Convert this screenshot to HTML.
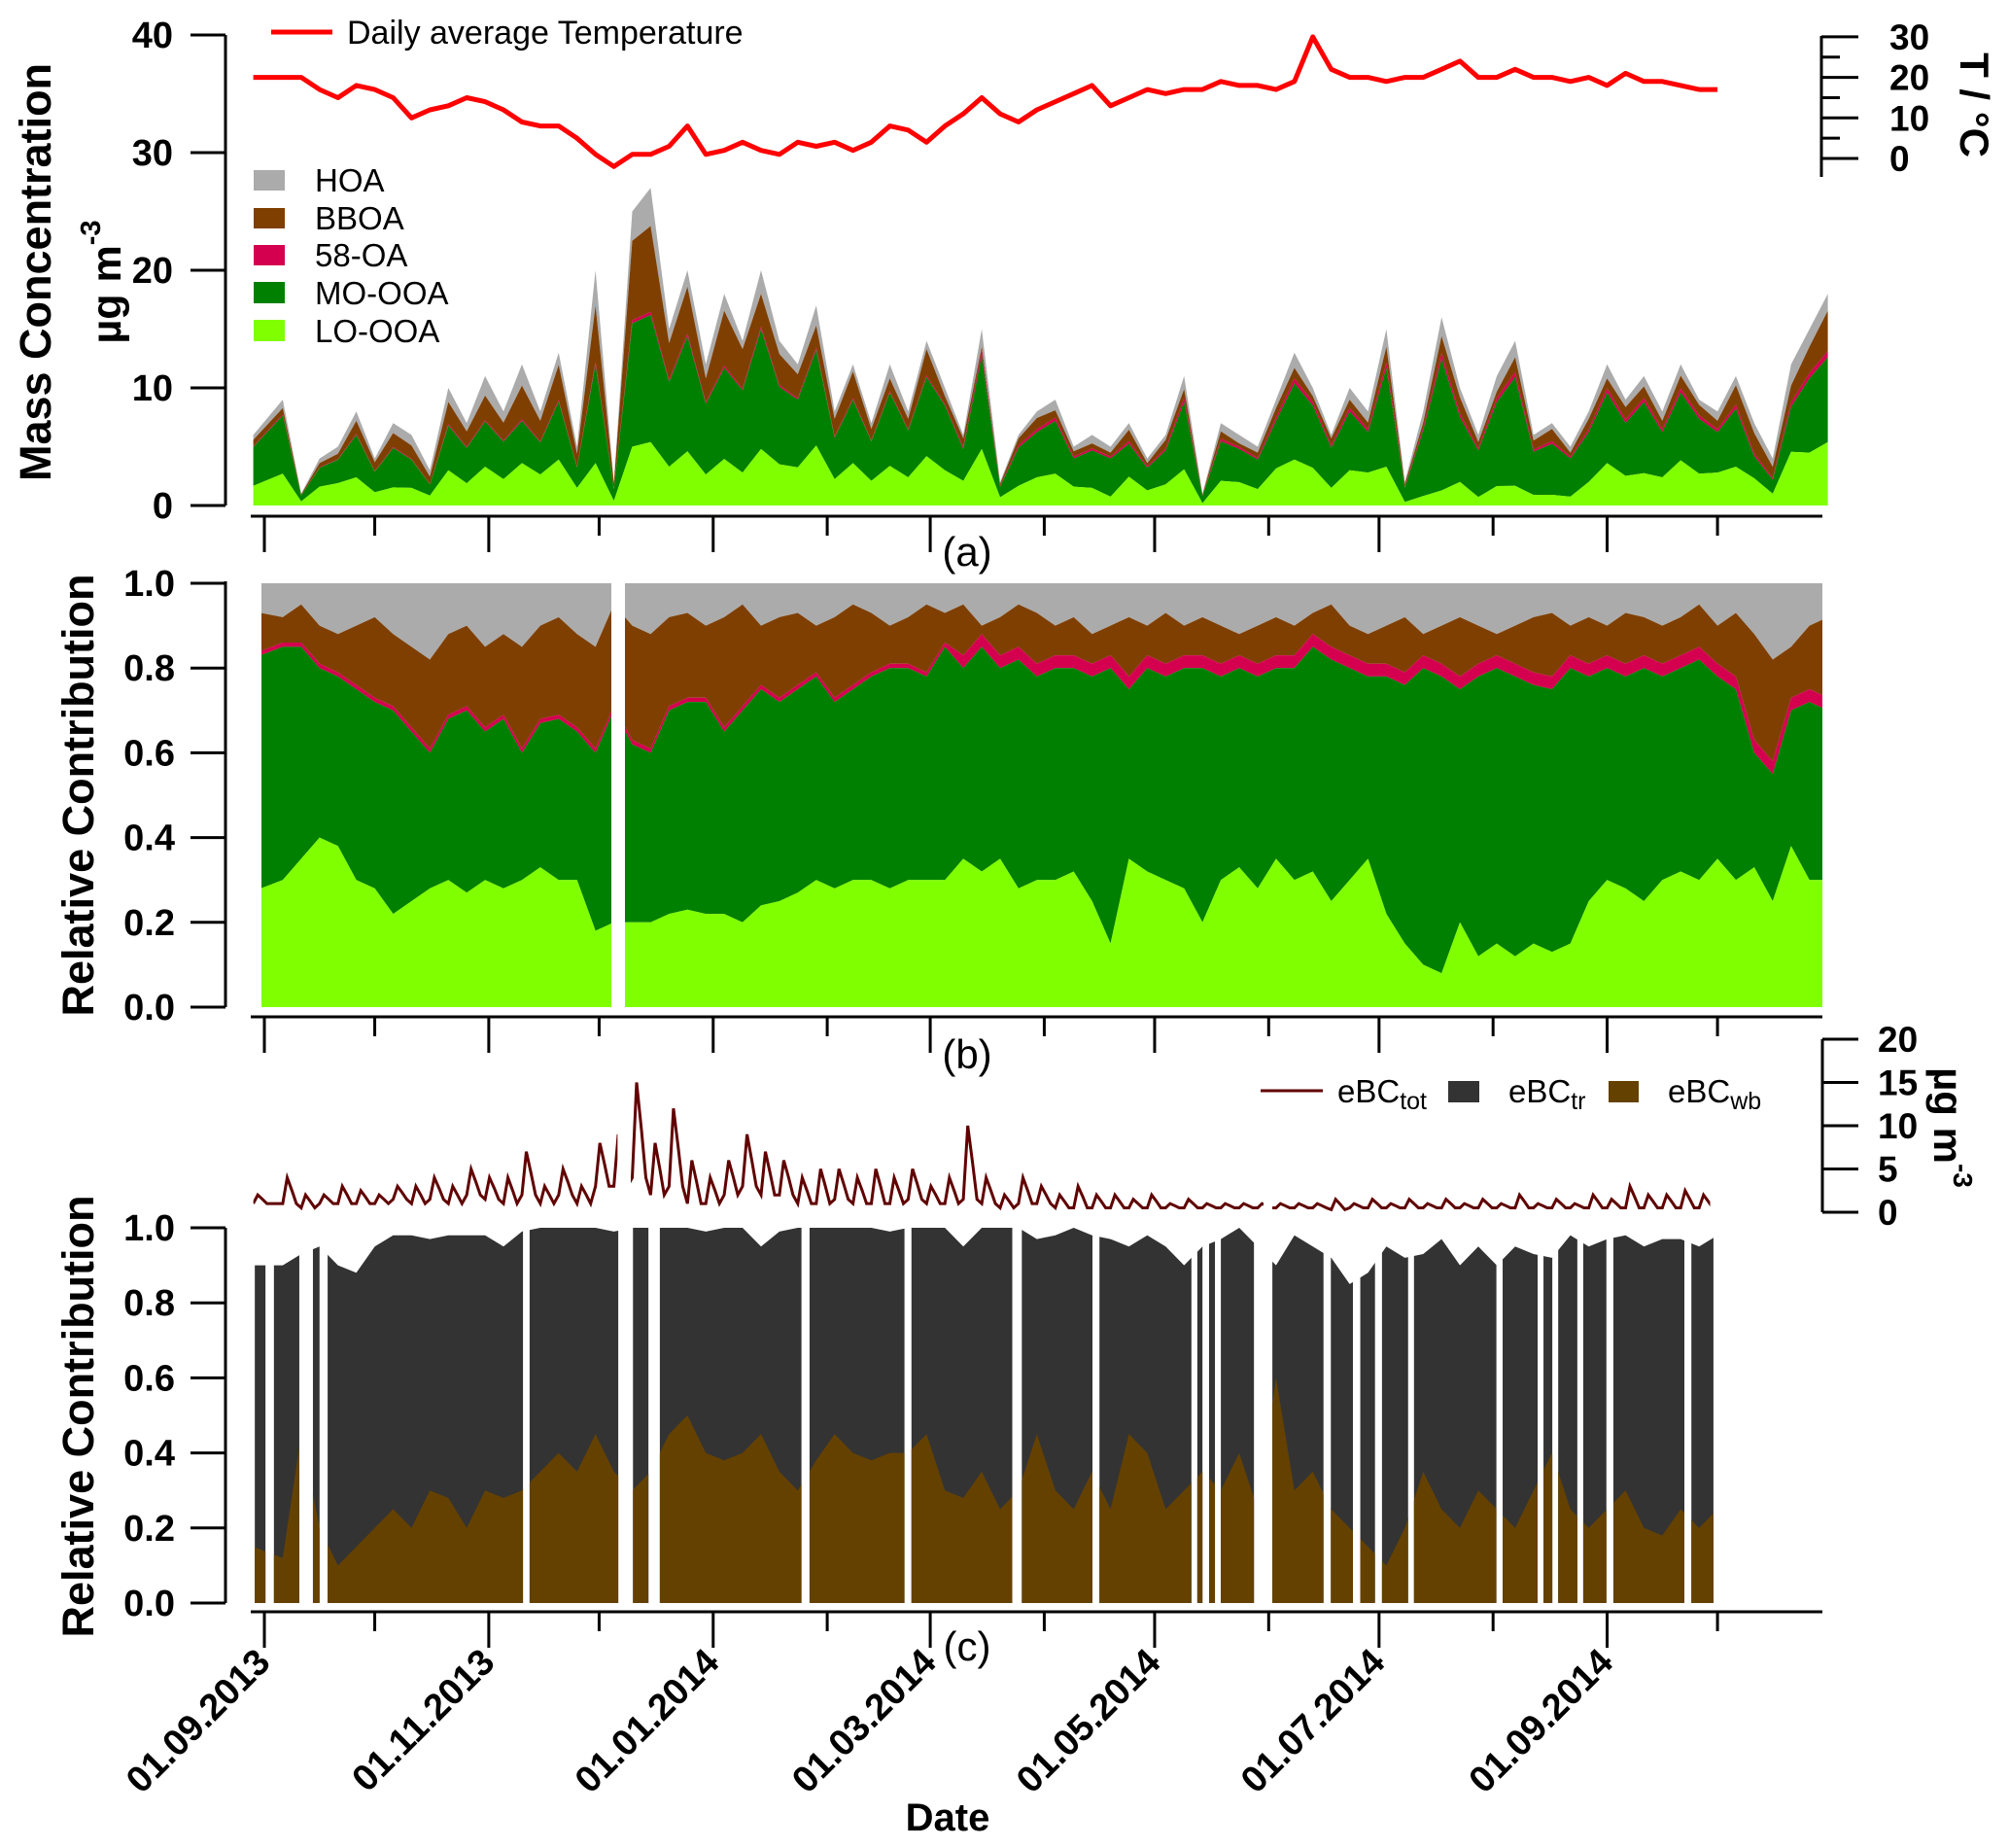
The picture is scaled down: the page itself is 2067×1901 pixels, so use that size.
<!DOCTYPE html>
<html><head><meta charset="utf-8"><style>
html,body{margin:0;padding:0;background:#fff;}
svg{display:block;font-family:"Liberation Sans",Arial,sans-serif;}
</style></head><body>
<svg id="chart" width="2067" height="1901" viewBox="0 0 2067 1901" xmlns="http://www.w3.org/2000/svg">
<defs>
<clipPath id="clipB"><rect x="269" y="590" width="360" height="460"/><rect x="643" y="590" width="1232" height="460"/></clipPath>
<clipPath id="clipC"></clipPath>
<clipPath id="clipE"></clipPath>
</defs>
<g id="gA"></g>
<g id="gB"></g>
<g id="gC"></g>
<g id="gAx"></g>
</svg>
<script>
// ---- data (sampled every 5 days from 01.09.2013) ----
const aTotal=[6,9,1,4,5,8,4,7,6,3,10,7,11,8,12,8,13,5,20,2,25,27,15,20,12,18,14,20,14,12,17,8,12,7,12,8,14,10,6,15,2,6,8,9,5,6,5,7,4,6,11,1,7,6,5,9,13,10,6,10,8,15,2,8,16,10,6,11,14,6,7,5,8,12,9,11,8,12,9,8,11,7,4,12,15,18];
const loFrac=[.28,.3,.35,.4,.38,.3,.28,.22,.25,.28,.3,.27,.3,.28,.3,.33,.3,.3,.18,.2,.2,.2,.22,.23,.22,.22,.2,.24,.25,.27,.3,.28,.3,.3,.28,.3,.3,.3,.35,.32,.35,.28,.3,.3,.32,.25,.15,.35,.32,.3,.28,.2,.3,.33,.28,.35,.3,.32,.25,.3,.35,.22,.15,.1,.08,.2,.12,.15,.12,.15,.13,.15,.25,.3,.28,.25,.3,.32,.3,.35,.3,.33,.25,.38,.3,.3];
const moTop=[.83,.85,.85,.8,.78,.75,.72,.7,.65,.6,.68,.7,.65,.68,.6,.67,.68,.65,.6,.7,.62,.6,.7,.72,.72,.65,.7,.75,.72,.75,.78,.72,.75,.78,.8,.8,.78,.85,.8,.85,.8,.82,.78,.8,.8,.78,.8,.75,.8,.78,.8,.8,.78,.8,.78,.8,.8,.85,.82,.8,.78,.78,.76,.8,.78,.75,.78,.8,.78,.76,.75,.8,.78,.8,.78,.8,.78,.8,.82,.78,.75,.6,.55,.7,.72,.7];
const oa58=[.01,.01,.01,.01,.01,.01,.01,.01,.01,.01,.01,.01,.01,.01,.01,.01,.01,.01,.01,.01,.01,.01,.01,.01,.01,.01,.01,.01,.01,.01,.01,.01,.01,.01,.01,.01,.01,.01,.03,.03,.03,.03,.03,.03,.03,.03,.03,.03,.03,.03,.03,.03,.03,.03,.03,.03,.03,.03,.03,.03,.03,.03,.03,.03,.03,.03,.03,.03,.03,.03,.03,.03,.03,.03,.03,.03,.03,.03,.03,.03,.03,.03,.03,.03,.03,.03];
const bbTop=[.93,.92,.95,.9,.88,.9,.92,.88,.85,.82,.88,.9,.85,.88,.85,.9,.92,.88,.85,.95,.9,.88,.92,.93,.9,.92,.95,.9,.92,.93,.9,.92,.95,.93,.9,.92,.95,.93,.95,.9,.92,.95,.93,.9,.92,.88,.9,.92,.9,.93,.9,.92,.9,.88,.9,.92,.9,.93,.95,.9,.88,.9,.92,.88,.9,.92,.9,.88,.9,.92,.93,.9,.92,.9,.93,.92,.9,.92,.95,.9,.93,.88,.82,.85,.9,.92];
const tempC=[20,20,20,17,15,18,17,15,10,12,13,15,14,12,9,8,8,5,1,-2,1,1,3,8,1,2,4,2,1,4,3,4,2,4,8,7,4,8,11,15,11,9,12,14,16,18,13,15,17,16,17,17,19,18,18,17,19,30,22,20,20,19,20,20,22,24,20,20,22,20,20,19,20,18,21,19,19,18,17,17];
const trTop=[.9,.9,.93,.95,.9,.88,.95,.98,.98,.97,.98,.98,.98,.95,.99,1,1,1,1,.99,1,1,1,1,.99,1,1,.95,.99,1,1,1,1,1,.99,1,1,1,.95,1,1,1,.97,.98,1,.98,.97,.95,.98,.95,.9,.95,.97,1,.95,.9,.98,.95,.92,.85,.88,.95,.92,.93,.97,.9,.95,.9,.95,.93,.92,.98,.95,.97,.98,.95,.97,.97,.95,.98];
const wbFrac=[.15,.12,.45,.2,.1,.15,.2,.25,.2,.3,.28,.2,.3,.28,.3,.35,.4,.35,.45,.35,.3,.35,.45,.5,.4,.38,.4,.45,.35,.3,.38,.45,.4,.38,.4,.4,.45,.3,.28,.35,.25,.3,.45,.3,.25,.35,.25,.45,.4,.25,.3,.35,.3,.4,.25,.6,.3,.35,.25,.2,.15,.1,.2,.35,.25,.2,.3,.25,.2,.3,.4,.25,.2,.25,.3,.2,.18,.25,.2,.25];
const ebcLow=[1,1,.5,1,1,1,1,1.5,1,1.5,1,2,1.5,1,2,1,2,1,3,3,4,2,3,1,1,2,3,2,2,1,1,1.5,1,1,1,1.5,1,1,1.5,1,.5,1,1,.5,.5,.5,.5,.5,.5,.5,.5,.5,.5,.5,.5,.5,.5,.5,.3,.5,.5,.5,.5,.5,.5,.5,.5,.5,.5,.5,.5,.5,.5,.5,.5,.5,.5,.5,.5,.5];
const ebcHigh=[2,4,2,2,3,2.5,2,3,3,4,3,5,4,4,7,3,5,3,8,9,15,8,12,6,4,6,9,7,6,4,5,5,4,5,4,5,3,4,10,4,2,4,3,2,3,2,2,1.5,2,1,1.5,1,1,1,1,1,1,1,1.5,1,1.5,1,1.5,1,1.5,1,1.5,1,2,1,1.5,1,2,1.5,3,2,2,2.5,2,2];
const cSegments=[[-2.6,.3],[2.6,9.5],[13.2,15],[17.2,70.3],[72.1,96.2],[100.2,104.4],[107.5,146],[148.2,174],[175.9,203.3],[205.9,225.1],[227,252],[253.6,255],[256.8,258.4],[260,269],[274,287.9],[289.9,295.9],[297.9,301.9],[303.8,310.9],[312.5,334.9],[336.6,346.1],[347.7,350.1],[351.7,356.9],[358.5,364.8],[366.7,386],[387.9,393.9]];
const eSegments=[[-3,96],[99.6,271.6],[274,393]];
const monthStarts=["2013-09-01","2013-10-01","2013-11-01","2013-12-01","2014-01-01","2014-02-01","2014-03-01","2014-04-01","2014-05-01","2014-06-01","2014-07-01","2014-08-01","2014-09-01","2014-10-01"];
const aTicks=[0,10,20,30,40];
const fracTicks=[0,0.2,0.4,0.6,0.8,1.0];
const tTicks=[0,10,20,30];
const eTicks=[0,5,10,15,20];

// ---- scales ----
const X=d=>272+d*3.785;
const Ya=v=>520-12.1*v;
const Yt=t=>163-4.17*t;
const Yb=f=>1036-436*f;
const Yc=f=>1649-386*f;
const Ye=v=>1247-8.9*v;
const dayOf=i=>i*5;
const NS="http://www.w3.org/2000/svg";
function mk(tag,attrs,parent){const e=document.createElementNS(NS,tag);for(const k in attrs)e.setAttribute(k,attrs[k]);parent.appendChild(e);return e;}
function band(n,lo,hi,xf){let top=[],bot=[];for(let i=0;i<n;i++){const x=xf(i).toFixed(1);top.push(x+","+hi(i).toFixed(1));bot.unshift(x+","+lo(i).toFixed(1));}return "M"+top.join("L")+"L"+bot.join("L")+"Z";}
const gA=document.getElementById('gA'),gB=document.getElementById('gB'),gC=document.getElementById('gC'),gAx=document.getElementById('gAx');
const colors={hoa:"#ababab",bboa:"#7f3f00",oa58:"#d4004f",mo:"#008000",lo:"#80ff00"};

// ---- panel a ----
const nA=aTotal.length;
const xa=i=>X(i===0?-3:dayOf(i));
const cum=[i=>0,i=>loFrac[i],i=>moTop[i],i=>moTop[i]+oa58[i],i=>bbTop[i],i=>1];
const aNames=['lo-ooa-area','mo-ooa-area','58-oa-area','bboa-area','hoa-area'];
const aCols=[colors.lo,colors.mo,colors.oa58,colors.bboa,colors.hoa];
for(let k=4;k>=0;k--){
  const p=mk('path',{d:band(nA,i=>Ya(aTotal[i]*cum[k](i)),i=>Ya(aTotal[i]*cum[k+1](i)),xa),fill:aCols[k]},gA);
  
  
}
let tp=[];for(let i=0;i<tempC.length;i++)tp.push(xa(i).toFixed(1)+","+Yt(tempC[i]).toFixed(1));
const tl=mk('polyline',{points:tp.join(" "),fill:"none",stroke:"#ff0000","stroke-width":5,"stroke-linejoin":"round"},gA);



// ---- panel b ----
const xb=i=>X(i===0?-1:dayOf(i));
const gBc=mk('g',{'clip-path':'url(#clipB)'},gB);
for(let k=4;k>=0;k--){
  const p=mk('path',{d:band(nA,i=>Yb(cum[k](i)),i=>Yb(cum[k+1](i)),xb),fill:aCols[k]},gBc);
  
  
}

// ---- panel c ----
const clipC=document.getElementById('clipC');
cSegments.forEach(s=>mk('rect',{x:X(s[0]),y:1250,width:X(s[1])-X(s[0]),height:400},clipC));
const clipE=document.getElementById('clipE');
eSegments.forEach(s=>mk('rect',{x:X(s[0]),y:1050,width:X(s[1])-X(s[0]),height:200},clipE));
const nC=wbFrac.length;
const xc=i=>X(i===0?-3:dayOf(i));
const gCc=mk('g',{'clip-path':'url(#clipC)'},gC);
const trP=mk('path',{d:band(nC,i=>Yc(0),i=>Yc(trTop[i]),xc),fill:"#333333"},gCc);


const wbP=mk('path',{d:band(nC,i=>Yc(0),i=>Yc(wbFrac[i]),xc),fill:"#654100"},gCc);


let ep=[];for(let i=0;i<ebcLow.length;i++){const d=i===0?-3:dayOf(i);ep.push(X(d).toFixed(1)+","+Ye(ebcLow[i]).toFixed(1));ep.push(X(d+1.2).toFixed(1)+","+Ye(ebcHigh[i]).toFixed(1));ep.push(X(d+2.5).toFixed(1)+","+Ye((ebcLow[i]+ebcHigh[i])/2).toFixed(1));ep.push(X(d+3.7).toFixed(1)+","+Ye(ebcLow[i]).toFixed(1));}
const el=mk('polyline',{points:ep.join(" "),fill:"none",stroke:"#600000","stroke-width":3,'clip-path':'url(#clipE)'},gC);



// ---- axes ----
function line(x1,y1,x2,y2,w){return mk('line',{x1,y1,x2,y2,stroke:"#000","stroke-width":w||3},gAx);}
function txt(s,x,y,o){const t=mk('text',Object.assign({x,y,fill:"#000"},o||{}),gAx);t.textContent=s;return t;}
line(232,36,232,520);line(232,598,232,1036);line(232,1263,232,1649);
aTicks.forEach(v=>{line(196,Ya(v),232,Ya(v));const t=txt(String(v),178,Ya(v)+13,{"font-size":38,"font-weight":"bold","text-anchor":"end"});});
fracTicks.forEach(v=>{
  line(196,Yb(v),232,Yb(v));let t=txt(v.toFixed(1),180,Yb(v)+13,{"font-size":38,"font-weight":"bold","text-anchor":"end"});
  line(196,Yc(v),232,Yc(v));t=txt(v.toFixed(1),180,Yc(v)+13,{"font-size":38,"font-weight":"bold","text-anchor":"end"});
});
line(1874,37,1874,182);
tTicks.forEach((v,i)=>{line(1874,Yt(v),1912,Yt(v));if(v<30)line(1874,Yt(v+5),1893,Yt(v+5));const t=txt(String(v),1944,Yt(v)+13,{"font-size":37,"font-weight":"bold"});});
line(1875,1069,1875,1247);
eTicks.forEach(v=>{line(1875,Ye(v),1912,Ye(v));const t=txt(String(v),1932,Ye(v)+13,{"font-size":37,"font-weight":"bold"});});
const t0=Date.UTC(2013,8,1);
[531,1046,1658].forEach(yb=>{
  line(258,yb,1875,yb);
  monthStarts.forEach((m,i)=>{const p=m.split('-');const d=(Date.UTC(+p[0],+p[1]-1,+p[2])-t0)/864e5;line(X(d),yb,X(d),yb+(i%2===0?37:20));});
});
monthStarts.forEach((m,i)=>{if(i%2)return;const p=m.split('-');const d=(Date.UTC(+p[0],+p[1]-1,+p[2])-t0)/864e5;const lab=p[2]+"."+p[1]+"."+p[0];
  const t=txt(lab,0,0,{"font-size":38,"font-weight":"bold","text-anchor":"end",transform:`translate(${X(d)+8},${1712}) rotate(-45)`});
  
  });
</script>
<script>
const ax=document.getElementById('gAx');
ax.insertAdjacentHTML('beforeend',`
<text transform="translate(52,280) rotate(-90)" text-anchor="middle" font-size="45" font-weight="bold">Mass Concentration</text>
<text transform="translate(124,290) rotate(-90)" text-anchor="middle" font-size="43" font-weight="bold">µg m<tspan dy="-21" font-size="29">-3</tspan></text>
<text transform="translate(96,818) rotate(-90)" text-anchor="middle" font-size="45" font-weight="bold">Relative Contribution</text>
<text transform="translate(96,1457) rotate(-90)" text-anchor="middle" font-size="45" font-weight="bold">Relative Contribution</text>
<text transform="translate(2017,108) rotate(90)" text-anchor="middle" font-size="42" font-weight="bold">T / °C</text>
<text transform="translate(1990,1160) rotate(90)" text-anchor="middle" font-size="42" font-weight="bold">µg m<tspan dy="-20" font-size="28">-3</tspan></text>
<text x="995" y="582" text-anchor="middle" font-size="42">(a)</text>
<text x="995" y="1099" text-anchor="middle" font-size="42">(b)</text>
<text x="995" y="1708" text-anchor="middle" font-size="42">(c)</text>
<text x="975" y="1883" text-anchor="middle" font-size="40" font-weight="bold">Date</text>
<g>
<line x1="279" y1="33" x2="342" y2="33" stroke="#ff0000" stroke-width="5"/>
<text x="357" y="45" font-size="34">Daily average Temperature</text>
<rect x="261" y="175" width="32" height="21" fill="#ababab"/><text x="324" y="197" font-size="33">HOA</text>
<rect x="261" y="214" width="32" height="21" fill="#7f3f00"/><text x="324" y="236" font-size="33">BBOA</text>
<rect x="261" y="252" width="32" height="21" fill="#d4004f"/><text x="324" y="274" font-size="33">58-OA</text>
<rect x="261" y="290" width="32" height="22" fill="#008000"/><text x="324" y="313" font-size="33">MO-OOA</text>
<rect x="261" y="329" width="32" height="22" fill="#80ff00"/><text x="324" y="352" font-size="33">LO-OOA</text>
</g>
<g>
<line x1="1297" y1="1122" x2="1361" y2="1122" stroke="#600000" stroke-width="3"/>
<text x="1376" y="1134" font-size="33">eBC<tspan dy="7" font-size="25">tot</tspan></text>
<rect x="1490" y="1112" width="32" height="22" fill="#333333"/>
<text x="1552" y="1134" font-size="33">eBC<tspan dy="7" font-size="25">tr</tspan></text>
<rect x="1655" y="1112" width="31" height="22" fill="#654100"/>
<text x="1716" y="1134" font-size="33">eBC<tspan dy="7" font-size="25">wb</tspan></text>
</g>`);
</script>
</body></html>
